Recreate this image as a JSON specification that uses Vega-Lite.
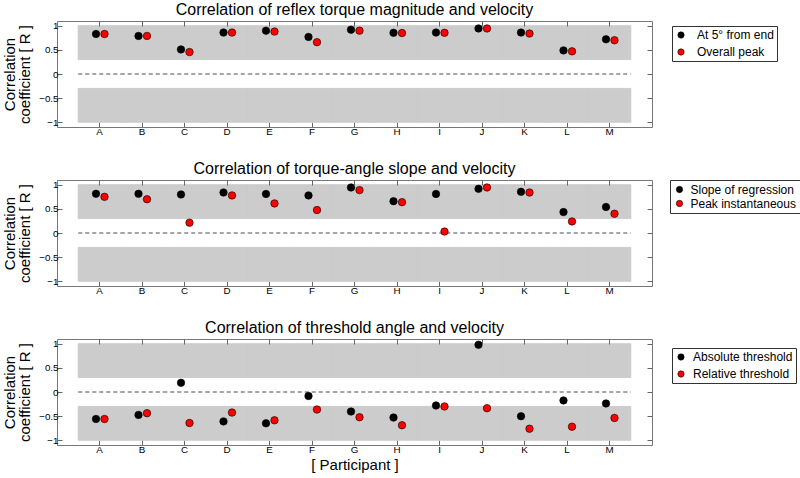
{
  "$schema": "https://vega.github.io/schema/vega-lite/v6.json",
  "padding": {"left": 2, "top": 1, "right": 0, "bottom": 0},
  "autosize": {"type": "pad"},
  "background": "white",
  "config": {
    "font": "Liberation Sans",
    "view": {"stroke": "#777", "strokeWidth": 1},
    "concat": {"spacing": 23},
    "title": {"fontSize": 16, "fontWeight": "normal", "color": "black", "offset": 3, "anchor": "middle"},
    "axis": {"grid": false, "domain": false, "tickColor": "#666", "tickSize": -5, "labelColor": "#000", "labelFontSize": 9.8, "labelAngle": 0}
  },
  "datasets": {
    "d1": [
      {"p": "A", "s": "At 5° from end", "r": 0.83}, {"p": "A", "s": "Overall peak", "r": 0.83},
      {"p": "B", "s": "At 5° from end", "r": 0.79}, {"p": "B", "s": "Overall peak", "r": 0.79},
      {"p": "C", "s": "At 5° from end", "r": 0.51}, {"p": "C", "s": "Overall peak", "r": 0.455},
      {"p": "D", "s": "At 5° from end", "r": 0.86}, {"p": "D", "s": "Overall peak", "r": 0.86},
      {"p": "E", "s": "At 5° from end", "r": 0.9}, {"p": "E", "s": "Overall peak", "r": 0.88},
      {"p": "F", "s": "At 5° from end", "r": 0.77}, {"p": "F", "s": "Overall peak", "r": 0.66},
      {"p": "G", "s": "At 5° from end", "r": 0.92}, {"p": "G", "s": "Overall peak", "r": 0.9},
      {"p": "H", "s": "At 5° from end", "r": 0.855}, {"p": "H", "s": "Overall peak", "r": 0.85},
      {"p": "I", "s": "At 5° from end", "r": 0.86}, {"p": "I", "s": "Overall peak", "r": 0.855},
      {"p": "J", "s": "At 5° from end", "r": 0.945}, {"p": "J", "s": "Overall peak", "r": 0.945},
      {"p": "K", "s": "At 5° from end", "r": 0.86}, {"p": "K", "s": "Overall peak", "r": 0.84},
      {"p": "L", "s": "At 5° from end", "r": 0.49}, {"p": "L", "s": "Overall peak", "r": 0.47},
      {"p": "M", "s": "At 5° from end", "r": 0.72}, {"p": "M", "s": "Overall peak", "r": 0.7}
    ],
    "d2": [
      {"p": "A", "s": "Slope of regression", "r": 0.814}, {"p": "A", "s": "Peak instantaneous", "r": 0.75},
      {"p": "B", "s": "Slope of regression", "r": 0.814}, {"p": "B", "s": "Peak instantaneous", "r": 0.7},
      {"p": "C", "s": "Slope of regression", "r": 0.8}, {"p": "C", "s": "Peak instantaneous", "r": 0.214},
      {"p": "D", "s": "Slope of regression", "r": 0.84}, {"p": "D", "s": "Peak instantaneous", "r": 0.78},
      {"p": "E", "s": "Slope of regression", "r": 0.81}, {"p": "E", "s": "Peak instantaneous", "r": 0.614},
      {"p": "F", "s": "Slope of regression", "r": 0.78}, {"p": "F", "s": "Peak instantaneous", "r": 0.476},
      {"p": "G", "s": "Slope of regression", "r": 0.945}, {"p": "G", "s": "Peak instantaneous", "r": 0.89},
      {"p": "H", "s": "Slope of regression", "r": 0.66}, {"p": "H", "s": "Peak instantaneous", "r": 0.64},
      {"p": "I", "s": "Slope of regression", "r": 0.81}, {"p": "I", "s": "Peak instantaneous", "r": 0.03},
      {"p": "J", "s": "Slope of regression", "r": 0.917}, {"p": "J", "s": "Peak instantaneous", "r": 0.945},
      {"p": "K", "s": "Slope of regression", "r": 0.855}, {"p": "K", "s": "Peak instantaneous", "r": 0.84},
      {"p": "L", "s": "Slope of regression", "r": 0.434}, {"p": "L", "s": "Peak instantaneous", "r": 0.24},
      {"p": "M", "s": "Slope of regression", "r": 0.54}, {"p": "M", "s": "Peak instantaneous", "r": 0.4}
    ],
    "d3": [
      {"p": "A", "s": "Absolute threshold", "r": -0.56}, {"p": "A", "s": "Relative threshold", "r": -0.56},
      {"p": "B", "s": "Absolute threshold", "r": -0.475}, {"p": "B", "s": "Relative threshold", "r": -0.44},
      {"p": "C", "s": "Absolute threshold", "r": 0.19}, {"p": "C", "s": "Relative threshold", "r": -0.643},
      {"p": "D", "s": "Absolute threshold", "r": -0.61}, {"p": "D", "s": "Relative threshold", "r": -0.427},
      {"p": "E", "s": "Absolute threshold", "r": -0.65}, {"p": "E", "s": "Relative threshold", "r": -0.587},
      {"p": "F", "s": "Absolute threshold", "r": -0.084}, {"p": "F", "s": "Relative threshold", "r": -0.364},
      {"p": "G", "s": "Absolute threshold", "r": -0.406}, {"p": "G", "s": "Relative threshold", "r": -0.524},
      {"p": "H", "s": "Absolute threshold", "r": -0.53}, {"p": "H", "s": "Relative threshold", "r": -0.69},
      {"p": "I", "s": "Absolute threshold", "r": -0.28}, {"p": "I", "s": "Relative threshold", "r": -0.3},
      {"p": "J", "s": "Absolute threshold", "r": 0.98}, {"p": "J", "s": "Relative threshold", "r": -0.336},
      {"p": "K", "s": "Absolute threshold", "r": -0.503}, {"p": "K", "s": "Relative threshold", "r": -0.762},
      {"p": "L", "s": "Absolute threshold", "r": -0.175}, {"p": "L", "s": "Relative threshold", "r": -0.72},
      {"p": "M", "s": "Absolute threshold", "r": -0.238}, {"p": "M", "s": "Relative threshold", "r": -0.538}
    ]
  },
  "vconcat": [
    {
      "width": 595, "height": 106,
      "title": "Correlation of reflex torque magnitude and velocity",
      "data": {"name": "d1"},
      "resolve": {"axis": {"x": "independent", "y": "independent"}},
      "layer": [
        {"mark": {"type": "rect", "color": "#cccccc", "stroke": "#cccccc", "strokeWidth": 0.6},
         "encoding": {
           "x": {"field": "p", "type": "nominal", "scale": {"type": "band", "paddingInner": 0, "paddingOuter": 0.5}, "axis": {"orient": "top", "labels": false, "title": null}},
           "y": {"datum": 0.3, "type": "quantitative", "scale": {"domain": [-1.1, 1.1], "nice": false, "zero": false}, "axis": {"orient": "right", "labels": false, "title": null, "values": [-1, -0.5, 0, 0.5, 1]}},
           "y2": {"datum": 1}}},
        {"mark": {"type": "rect", "color": "#cccccc", "stroke": "#cccccc", "strokeWidth": 0.6},
         "encoding": {
           "x": {"field": "p", "type": "nominal", "axis": null},
           "y": {"datum": -1, "type": "quantitative", "axis": null},
           "y2": {"datum": -0.3}}},
        {"mark": {"type": "rule", "color": "#888", "strokeDash": [4, 3], "strokeWidth": 1},
         "encoding": {
           "x": {"field": "p", "type": "nominal", "bandPosition": 0, "axis": null},
           "x2": {"field": "p", "bandPosition": 1},
           "y": {"datum": 0, "type": "quantitative", "axis": null}}},
        {"transform": [{"filter": {"field": "s", "equal": "At 5° from end"}}],
         "mark": {"type": "point", "filled": true, "size": 56, "stroke": "black", "strokeWidth": 0.6, "opacity": 1, "xOffset": -3.5},
         "encoding": {
           "x": {"field": "p", "type": "nominal", "axis": {"orient": "bottom", "title": null, "labelPadding": 4}},
           "y": {"field": "r", "type": "quantitative", "axis": {"orient": "left", "title": ["Correlation", "coefficient [ R ]"], "titleFontSize": 15, "titleLineHeight": 15, "titleFontWeight": "normal", "titleColor": "black", "titlePadding": 6, "values": [-1, -0.5, 0, 0.5, 1], "format": "~g", "labelPadding": 4}},
           "color": {"field": "s", "type": "nominal", "sort": null, "scale": {"domain": ["At 5° from end", "Overall peak"], "range": ["black", "red"]},
             "legend": {"title": null, "orient": "none", "legendX": 615, "legendY": 5, "strokeColor": "#333", "fillColor": "white", "padding": 3, "labelOffset": 10, "labelFontSize": 12, "labelColor": "black", "symbolType": "circle", "symbolSize": 40, "symbolStrokeColor": "black", "symbolStrokeWidth": 0.6, "rowPadding": 5}}}},
        {"transform": [{"filter": {"field": "s", "equal": "Overall peak"}}],
         "mark": {"type": "point", "filled": true, "size": 56, "stroke": "black", "strokeWidth": 0.6, "opacity": 1, "xOffset": 5},
         "encoding": {
           "x": {"field": "p", "type": "nominal", "axis": null},
           "y": {"field": "r", "type": "quantitative", "axis": null},
           "color": {"field": "s", "type": "nominal"}}}
      ]
    },
    {
      "width": 595, "height": 106,
      "title": "Correlation of torque-angle slope and velocity",
      "data": {"name": "d2"},
      "resolve": {"axis": {"x": "independent", "y": "independent"}},
      "layer": [
        {"mark": {"type": "rect", "color": "#cccccc", "stroke": "#cccccc", "strokeWidth": 0.6},
         "encoding": {
           "x": {"field": "p", "type": "nominal", "scale": {"type": "band", "paddingInner": 0, "paddingOuter": 0.5}, "axis": {"orient": "top", "labels": false, "title": null}},
           "y": {"datum": 0.3, "type": "quantitative", "scale": {"domain": [-1.1, 1.1], "nice": false, "zero": false}, "axis": {"orient": "right", "labels": false, "title": null, "values": [-1, -0.5, 0, 0.5, 1]}},
           "y2": {"datum": 1}}},
        {"mark": {"type": "rect", "color": "#cccccc", "stroke": "#cccccc", "strokeWidth": 0.6},
         "encoding": {
           "x": {"field": "p", "type": "nominal", "axis": null},
           "y": {"datum": -1, "type": "quantitative", "axis": null},
           "y2": {"datum": -0.3}}},
        {"mark": {"type": "rule", "color": "#888", "strokeDash": [4, 3], "strokeWidth": 1},
         "encoding": {
           "x": {"field": "p", "type": "nominal", "bandPosition": 0, "axis": null},
           "x2": {"field": "p", "bandPosition": 1},
           "y": {"datum": 0, "type": "quantitative", "axis": null}}},
        {"transform": [{"filter": {"field": "s", "equal": "Slope of regression"}}],
         "mark": {"type": "point", "filled": true, "size": 56, "stroke": "black", "strokeWidth": 0.6, "opacity": 1, "xOffset": -3.5},
         "encoding": {
           "x": {"field": "p", "type": "nominal", "axis": {"orient": "bottom", "title": null, "labelPadding": 4}},
           "y": {"field": "r", "type": "quantitative", "axis": {"orient": "left", "title": ["Correlation", "coefficient [ R ]"], "titleFontSize": 15, "titleLineHeight": 15, "titleFontWeight": "normal", "titleColor": "black", "titlePadding": 6, "values": [-1, -0.5, 0, 0.5, 1], "format": "~g", "labelPadding": 4}},
           "color": {"field": "s", "type": "nominal", "sort": null, "scale": {"domain": ["Slope of regression", "Peak instantaneous"], "range": ["black", "red"]},
             "legend": {"title": null, "orient": "none", "legendX": 613, "legendY": 0, "strokeColor": "#333", "fillColor": "white", "padding": 3.5, "labelOffset": 5, "labelFontSize": 12, "labelColor": "black", "symbolType": "circle", "symbolSize": 40, "symbolStrokeColor": "black", "symbolStrokeWidth": 0.6, "rowPadding": 2}}}},
        {"transform": [{"filter": {"field": "s", "equal": "Peak instantaneous"}}],
         "mark": {"type": "point", "filled": true, "size": 56, "stroke": "black", "strokeWidth": 0.6, "opacity": 1, "xOffset": 5},
         "encoding": {
           "x": {"field": "p", "type": "nominal", "axis": null},
           "y": {"field": "r", "type": "quantitative", "axis": null},
           "color": {"field": "s", "type": "nominal"}}}
      ]
    },
    {
      "width": 595, "height": 106,
      "title": "Correlation of threshold angle and velocity",
      "data": {"name": "d3"},
      "resolve": {"axis": {"x": "independent", "y": "independent"}},
      "layer": [
        {"mark": {"type": "rect", "color": "#cccccc", "stroke": "#cccccc", "strokeWidth": 0.6},
         "encoding": {
           "x": {"field": "p", "type": "nominal", "scale": {"type": "band", "paddingInner": 0, "paddingOuter": 0.5}, "axis": {"orient": "top", "labels": false, "title": null}},
           "y": {"datum": 0.3, "type": "quantitative", "scale": {"domain": [-1.1, 1.1], "nice": false, "zero": false}, "axis": {"orient": "right", "labels": false, "title": null, "values": [-1, -0.5, 0, 0.5, 1]}},
           "y2": {"datum": 1}}},
        {"mark": {"type": "rect", "color": "#cccccc", "stroke": "#cccccc", "strokeWidth": 0.6},
         "encoding": {
           "x": {"field": "p", "type": "nominal", "axis": null},
           "y": {"datum": -1, "type": "quantitative", "axis": null},
           "y2": {"datum": -0.3}}},
        {"mark": {"type": "rule", "color": "#888", "strokeDash": [4, 3], "strokeWidth": 1},
         "encoding": {
           "x": {"field": "p", "type": "nominal", "bandPosition": 0, "axis": null},
           "x2": {"field": "p", "bandPosition": 1},
           "y": {"datum": 0, "type": "quantitative", "axis": null}}},
        {"transform": [{"filter": {"field": "s", "equal": "Absolute threshold"}}],
         "mark": {"type": "point", "filled": true, "size": 56, "stroke": "black", "strokeWidth": 0.6, "opacity": 1, "xOffset": -3.5},
         "encoding": {
           "x": {"field": "p", "type": "nominal", "axis": {"orient": "bottom", "title": "[ Participant ]", "titleFontSize": 15, "titleFontWeight": "normal", "titleColor": "black", "titlePadding": 4, "labelPadding": 4}},
           "y": {"field": "r", "type": "quantitative", "axis": {"orient": "left", "title": ["Correlation", "coefficient [ R ]"], "titleFontSize": 15, "titleLineHeight": 15, "titleFontWeight": "normal", "titleColor": "black", "titlePadding": 6, "values": [-1, -0.5, 0, 0.5, 1], "format": "~g", "labelPadding": 4}},
           "color": {"field": "s", "type": "nominal", "sort": null, "scale": {"domain": ["Absolute threshold", "Relative threshold"], "range": ["black", "red"]},
             "legend": {"title": null, "orient": "none", "legendX": 615, "legendY": 9, "strokeColor": "#333", "fillColor": "white", "padding": 3, "labelOffset": 6, "labelFontSize": 12, "labelColor": "black", "symbolType": "circle", "symbolSize": 40, "symbolStrokeColor": "black", "symbolStrokeWidth": 0.6, "rowPadding": 5}}}},
        {"transform": [{"filter": {"field": "s", "equal": "Relative threshold"}}],
         "mark": {"type": "point", "filled": true, "size": 56, "stroke": "black", "strokeWidth": 0.6, "opacity": 1, "xOffset": 5},
         "encoding": {
           "x": {"field": "p", "type": "nominal", "axis": null},
           "y": {"field": "r", "type": "quantitative", "axis": null},
           "color": {"field": "s", "type": "nominal"}}}
      ]
    }
  ],
  "resolve": {"scale": {"color": "independent"}, "legend": {"color": "independent"}}
}
